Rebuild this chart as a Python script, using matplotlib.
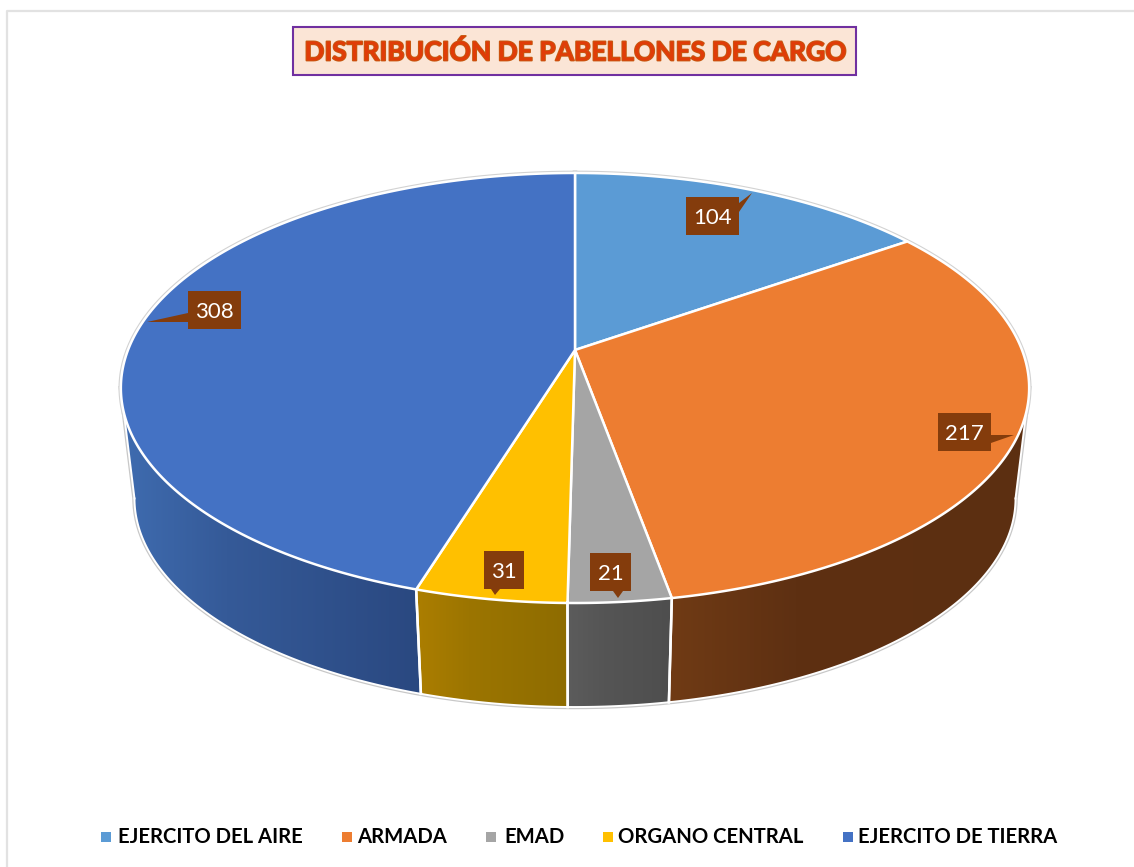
import numpy as np
import matplotlib
matplotlib.use('Agg')
import matplotlib.pyplot as plt
import matplotlib.patheffects as pe
from matplotlib.colors import LinearSegmentedColormap
from matplotlib.patches import Polygon, Rectangle

# data
categories = ['EJERCITO DEL AIRE', 'ARMADA', 'EMAD', 'ORGANO CENTRAL', 'EJERCITO DE TIERRA']
values = [104, 217, 21, 31, 308]
title = 'DISTRIBUCIÓN DE PABELLONES DE CARGO'

# styles
top_colors = ['#5B9BD5', '#ED7D31', '#A5A5A5', '#FFC000', '#4472C4']
side_stops = [
    ['#3F6F9B', '#3F6F9B', '#3F6F9B'],
    ['#703B15', '#5E3012', '#5C2F11'],
    ['#5C5C5C', '#555555', '#4E4E4E'],
    ['#AC7E00', '#9C7500', '#8E6C00'],
    ['#3F6CB0', '#355A98', '#2A4880'],
]
legend_square_x = [101, 342, 486, 603, 843]
legend_text_x = [118, 357, 504, 618, 858]

# callouts: box x0, x1, y0, y1, then pointer base a, base b, tip
callouts = [
    (686, 739, 197, 235, (739, 203), (739, 212), (752, 193)),
    (938, 991, 413, 451, (991, 435), (991, 443), (1014, 435)),
    (590, 631, 553, 591, (613, 591), (623, 591), (618, 598)),
    (484, 524, 551, 589, (491, 589), (500, 589), (495, 595)),
    (188, 241, 291, 329, (188, 313), (188, 322), (147, 322)),
]

# pie geometry in pixels, a tilted circle seen in perspective
CX, CY = 575, 350
A, B, K = 447, 208.3, 0.1767
DROP, SHRINK = 111.6, 0.97


def project(phi, lower=False):
    # phi is clockwise from 12 o'clock, in degrees
    x = np.sin(np.radians(phi))
    y = np.cos(np.radians(phi))
    px = A * x / (1 + K * y)
    py = -B * y / (1 + K * y)
    if lower:
        return np.column_stack([CX + SHRINK * px, CY + DROP + SHRINK * py])
    return np.column_stack([CX + px, CY + py])


fig = plt.figure(figsize=(11.34, 8.67), dpi=100)
ax = fig.add_axes([0, 0, 1, 1])
ax.set_axis_off()

# chart frame
ax.plot([7, 7, 1134], [867, 11, 11], color='#E2E2E2', lw=1.6, solid_capstyle='butt')

edges = np.concatenate([[0], np.cumsum(values)]) / sum(values) * 360
vis0 = 90 + np.degrees(np.arcsin(K))
vis1 = 270 - np.degrees(np.arcsin(K))

# soft outline round the whole body
rim = np.linspace(vis0, vis1, 200)
outline = np.vstack([project(vis0)[None, :].reshape(1, 2), project(rim, True),
                     project(vis1)[None, :].reshape(1, 2)])
ax.plot(*outline.T, color='#C8C8C8', lw=3.2, zorder=1)
ax.plot(*project(np.linspace(0, 360, 400)).T, color='#D2D2D2', lw=3.4, zorder=1)

# side faces
for i in range(len(values)):
    a0, a1 = max(edges[i], vis0), min(edges[i + 1], vis1)
    if a0 >= a1:
        continue
    phi = np.linspace(a0, a1, 120)
    up, low = project(phi), project(phi, True)
    poly = np.vstack([up, low[::-1]])
    patch = Polygon(poly, closed=True, facecolor='none', edgecolor='none', zorder=2)
    ax.add_patch(patch)
    x0, x1 = poly[:, 0].min(), poly[:, 0].max()
    y0, y1 = poly[:, 1].min(), poly[:, 1].max()
    cmap = LinearSegmentedColormap.from_list(
        'side', list(zip([0, 0.35, 1], side_stops[i])))
    im = ax.imshow(np.linspace(0, 1, 256)[None, :], cmap=cmap, aspect='auto',
                   extent=(x0, x1, y1, y0), zorder=2)
    im.set_clip_path(patch)
    ax.plot(*low.T, color='white', lw=1.4, zorder=3)
    if a0 == edges[i]:
        ax.plot([up[0, 0], low[0, 0]], [up[0, 1], low[0, 1]], color='white', lw=1.8, zorder=3)
    if a1 == edges[i + 1]:
        ax.plot([up[-1, 0], low[-1, 0]], [up[-1, 1], low[-1, 1]], color='white', lw=1.8, zorder=3)

# silhouette edges of the side
ax.plot(*outline[:2].T, color='white', lw=1.4, zorder=3)
ax.plot(*outline[-2:].T, color='white', lw=1.4, zorder=3)

# top faces
for i in range(len(values)):
    phi = np.linspace(edges[i], edges[i + 1], 200)
    pts = np.vstack([[CX, CY], project(phi)])
    ax.add_patch(Polygon(pts, closed=True, facecolor=top_colors[i], edgecolor='white',
                         lw=1.8, joinstyle='round', zorder=4))

# value callouts
for v, (x0, x1, y0, y1, p, q, tip) in zip(values, callouts):
    ax.add_patch(Polygon([p, q, tip], closed=True, facecolor='#843C0C', edgecolor='none', zorder=5))
    ax.add_patch(Rectangle((x0, y0), x1 - x0, y1 - y0, facecolor='#843C0C', edgecolor='none', zorder=5))
    ax.text((x0 + x1) / 2, (y0 + y1) / 2 + 2, str(v), color='white', fontsize=16, family='Lato',
            ha='center', va='center', zorder=6)

# title box
ax.add_patch(Rectangle((293, 27), 563, 48, facecolor='#FBE5D6', edgecolor='#7030A0', lw=1.5, zorder=5))
ax.text(575, 52, title, color='#E03C08', fontsize=19, fontweight='bold', family='Lato',
        ha='center', va='center', zorder=6,
        path_effects=[pe.withStroke(linewidth=1.3, foreground='#C55A11')])

# legend
for i, name in enumerate(categories):
    ax.add_patch(Rectangle((legend_square_x[i], 832), 10, 10, facecolor=top_colors[i],
                           edgecolor='none', zorder=5))
    ax.text(legend_text_x[i], 837, name, color='black', fontsize=14.6, fontweight='bold',
            family='Lato', ha='left', va='center', zorder=6)

ax.set_xlim(0, 1134)
ax.set_ylim(867, 0)
fig.savefig('out.png', dpi=100, facecolor='white')
